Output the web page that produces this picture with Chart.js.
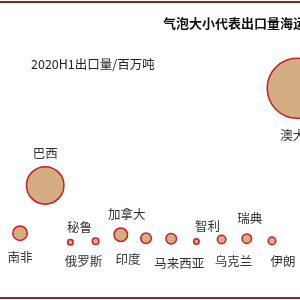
<!DOCTYPE html>
<html>
<head>
<meta charset="utf-8">
<script src="https://cdn.jsdelivr.net/npm/chart.js@4"></script>
<style>
    body { margin: 0; background: #fff; }
    #wrap { width: 300px; height: 300px; overflow: hidden; }
</style>
</head>
<body>
<div id="wrap"><canvas id="bubbleChart" width="300" height="300"></canvas></div>
<script>
// Countries in order along the x axis
const countries = ['南非', '巴西', '秘鲁', '俄罗斯', '加拿大', '印度', '马来西亚', '智利', '乌克兰', '瑞典', '伊朗', '澳大利亚'];
// 2020H1 export volume, million tonnes (y value)
const exportVolume = [33, 164, 8, 11, 29, 19, 18, 10, 16, 18, 12, 430];
// Bubble size values
const bubbleSize = [5.8, 39, 0.84, 1.2, 5.1, 3.1, 3.1, 0.84, 2.0, 2.5, 1.6, 100];

const titleText = '气泡大小代表出口量海运量占比';
const unitText = '2020H1出口量/百万吨';

// Label offsets from bubble centre [dx, dy] (placement only)
const labelOffsets = [
    [0, 24], [0, -32], [9, -15], [-12, 20], [6, -20], [-18, 21],
    [8, 25], [11, -15], [12, 22], [3, -20], [11, 20], [8, 47]
];

const CJK = '"Noto Sans CJK SC", "Noto Sans", sans-serif';

/**
 * Draws frame lines, title and bubble labels
 */
const decorPlugin = {
    id: 'decor',
    beforeDraw(chart) {
        const ctx = chart.ctx;
        ctx.save();
        ctx.fillStyle = '#fff';
        ctx.fillRect(0, 0, chart.width, chart.height);
        ctx.restore();
    },
    afterDraw(chart) {
        const ctx = chart.ctx;
        ctx.save();
        // top and bottom rules
        ctx.fillStyle = '#80282a';
        ctx.fillRect(0, 1, chart.width, 2);
        ctx.fillRect(0, 297, chart.width, 2);

        ctx.fillStyle = '#111';
        ctx.textBaseline = 'middle';
        ctx.textAlign = 'left';
        ctx.font = 'bold 13px ' + CJK;
        ctx.fillText(titleText, 163, 23);

        ctx.fillStyle = '#222';
        ctx.font = '12.5px ' + CJK;
        ctx.fillText(unitText, 31, 64);

        // labels next to bubbles
        ctx.fillStyle = '#333';
        ctx.textAlign = 'center';
        ctx.font = '12.5px ' + CJK;
        const meta = chart.getDatasetMeta(0);
        meta.data.forEach((pt, i) => {
            const off = labelOffsets[i];
            ctx.fillText(countries[i], pt.x + off[0], pt.y + off[1]);
        });
        ctx.restore();
    }
};

const points = countries.map((c, i) => ({
    x: i,
    y: exportVolume[i],
    r: 3 * Math.sqrt(bubbleSize[i])
}));

new Chart(document.getElementById('bubbleChart').getContext('2d'), {
    type: 'bubble',
    data: {
        datasets: [{
            label: '出口量',
            data: points,
            backgroundColor: '#d4ae82',
            borderColor: '#c81e23',
            borderWidth: 1.5,
            clip: false
        }]
    },
    options: {
        responsive: false,
        animation: false,
        layout: { padding: 0, autoPadding: false },
        scales: {
            x: { type: 'linear', display: false, min: -0.794, max: 11.111 },
            y: { type: 'linear', display: false, min: -150, max: 672 }
        },
        plugins: {
            legend: { display: false },
            tooltip: { enabled: false }
        }
    },
    plugins: [decorPlugin]
});
</script>
</body>
</html>
